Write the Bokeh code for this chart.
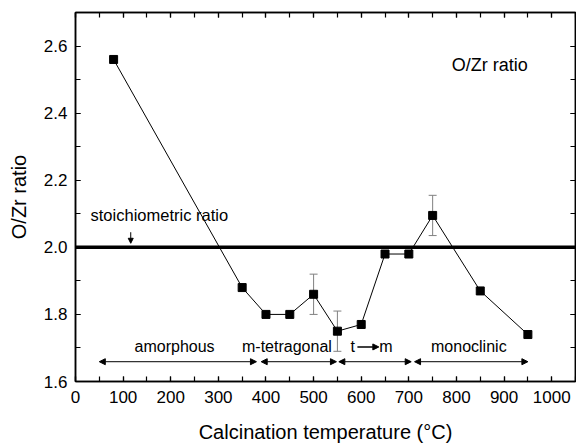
from bokeh.plotting import figure
from bokeh.models import (ColumnDataSource, Whisker, TeeHead, Span, Arrow, NormalHead,
                          LinearAxis, SingleIntervalTicker, Label, Range1d,
                          NumeralTickFormatter, CustomJSTickFormatter)
from bokeh.embed import file_html
from bokeh.resources import INLINE

temps = [80, 350, 400, 450, 500, 550, 600, 650, 700, 750, 850, 950]
ratios = [2.56, 1.88, 1.80, 1.80, 1.86, 1.75, 1.77, 1.98, 1.98, 2.095, 1.87, 1.74]
err_temps = [500, 550, 750]
err_vals = [1.86, 1.75, 2.095]
err_size = [0.06, 0.06, 0.06]
stoich = 2.0
phase_labels = ["amorphous", "m-tetragonal", "monoclinic"]
phase_label_x = [208, 444, 826]
phase_start = [50, 390, 553, 712]
phase_end = [380, 548, 705, 950]

FONT = "Liberation Sans"

p = figure(width=576, height=445, x_range=Range1d(0, 1050), y_range=Range1d(1.6, 2.7),
           output_backend="svg", toolbar_location=None,
           min_border_left=75, min_border_right=1, min_border_top=12, min_border_bottom=62)
p.xgrid.visible = False
p.ygrid.visible = False
p.outline_line_color = "black"
p.outline_line_width = 1.5
p.background_fill_color = "white"
p.border_fill_color = "white"

def style(ax, labels=True):
    ax.major_tick_in = 5
    ax.major_tick_out = 0
    ax.minor_tick_in = 5
    ax.minor_tick_out = 0
    ax.axis_line_width = 1.5
    ax.major_tick_line_width = 1.2
    ax.minor_tick_line_width = 1.2
    ax.major_label_text_font = FONT
    ax.major_label_text_font_size = "17px"
    ax.major_label_text_color = "black"
    if not labels:
        ax.formatter = CustomJSTickFormatter(code="return ''")
        ax.major_label_standoff = 0

p.xaxis.ticker = SingleIntervalTicker(interval=100, num_minor_ticks=2)
p.yaxis.ticker = SingleIntervalTicker(interval=0.2, num_minor_ticks=2)
p.yaxis.formatter = NumeralTickFormatter(format="0.0")
style(p.xaxis[0])
style(p.yaxis[0])
p.xaxis.major_label_standoff = 9
p.yaxis.major_label_standoff = 8
p.xaxis.axis_label = "Calcination temperature (°C)"
p.yaxis.axis_label = "O/Zr ratio"
for ax in (p.xaxis[0], p.yaxis[0]):
    ax.axis_label_text_font = FONT
    ax.axis_label_text_font_size = "20px"
    ax.axis_label_text_font_style = "normal"
    ax.axis_label_text_color = "black"
p.xaxis.axis_label_standoff = 15
p.yaxis.axis_label_standoff = 11

top = LinearAxis(ticker=SingleIntervalTicker(interval=100, num_minor_ticks=2))
style(top, labels=False)
p.add_layout(top, "above")
right = LinearAxis(ticker=SingleIntervalTicker(interval=0.2, num_minor_ticks=2))
style(right, labels=False)
p.add_layout(right, "right")

p.add_layout(Span(location=stoich, dimension="width", line_color="black", line_width=3.5))

esrc = ColumnDataSource(dict(x=err_temps,
                             lo=[v - e for v, e in zip(err_vals, err_size)],
                             hi=[v + e for v, e in zip(err_vals, err_size)]))
p.add_layout(Whisker(source=esrc, base="x", lower="lo", upper="hi", line_color="#808080",
                     line_width=1,
                     lower_head=TeeHead(size=8, line_color="#808080", line_width=1),
                     upper_head=TeeHead(size=8, line_color="#808080", line_width=1)))

src = ColumnDataSource(dict(x=temps, y=ratios))
p.line("x", "y", source=src, line_color="black", line_width=1)
p.scatter("x", "y", source=src, marker="square", size=8, fill_color="black", line_color="black")

for xs, xe in zip(phase_start, phase_end):
    p.add_layout(Arrow(x_start=xs, y_start=1.659, x_end=xe, y_end=1.659, line_width=1,
                       line_color="black",
                       start=NormalHead(size=6, fill_color="black", line_color="black"),
                       end=NormalHead(size=6, fill_color="black", line_color="black")))

for t, xx in zip(phase_labels, phase_label_x):
    p.add_layout(Label(x=xx, y=1.703, text=t, text_font=FONT, text_font_size="16px",
                       text_align="center", text_baseline="middle", text_color="black"))
p.add_layout(Label(x=582, y=1.703, text="t", text_font=FONT, text_font_size="16px",
                   text_align="center", text_baseline="middle", text_color="black"))
p.add_layout(Label(x=652, y=1.703, text="m", text_font=FONT, text_font_size="16px",
                   text_align="center", text_baseline="middle", text_color="black"))
p.add_layout(Arrow(x_start=592, y_start=1.703, x_end=637, y_end=1.703, line_width=1.5,
                   end=NormalHead(size=6, fill_color="black", line_color="black")))

p.add_layout(Label(x=176, y=2.096, text="stoichiometric ratio", text_font=FONT,
                   text_font_size="16.5px", text_align="center", text_baseline="middle",
                   text_color="black"))
p.add_layout(Arrow(x_start=116, y_start=2.045, x_end=116, y_end=2.012, line_width=1,
                   end=NormalHead(size=5, fill_color="black", line_color="black")))
p.add_layout(Label(x=870, y=2.544, text="O/Zr ratio", text_font=FONT, text_font_size="18px",
                   text_align="center", text_baseline="middle", text_color="black"))

open("out.html", "w").write(file_html(p, INLINE))
